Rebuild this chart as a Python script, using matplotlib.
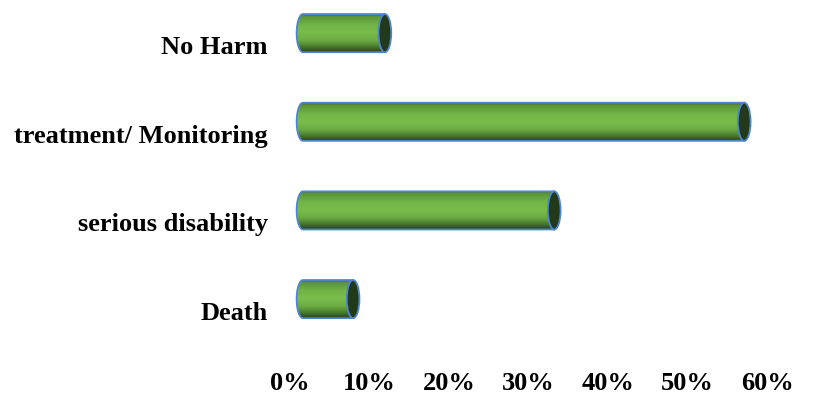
import numpy as np
import matplotlib
matplotlib.use("Agg")
import matplotlib.pyplot as plt
from matplotlib.path import Path
from matplotlib.patches import PathPatch, Ellipse
from matplotlib.colors import LinearSegmentedColormap
from matplotlib.transforms import ScaledTranslation

categories = ["No Harm", "treatment/ Monitoring", "serious disability", "Death"]
values = [10.3, 55.5, 31.6, 6.3]
xticks = [0, 10, 20, 30, 40, 50, 60]
xticklabels = ["0%", "10%", "20%", "30%", "40%", "50%", "60%"]

plt.rcParams['font.family'] = ['Liberation Serif', 'DejaVu Serif']

fig = plt.figure(figsize=(8.13, 3.98), dpi=100)
ax = fig.add_axes([290/813, 0.107, (767-290)/813, 0.891])
n = len(categories)
pos = np.arange(n)
ax.set_xlim(0, 60)
ax.set_ylim(n - 0.5, -0.5)

bar_h = 0.43
cap_w = 1.6  # data units in x
shift = ax.transData + ScaledTranslation(0.13, 0.12, fig.dpi_scale_trans)

cmap = LinearSegmentedColormap.from_list("cyl", [
    (0.0, "#3a6228"), (0.08, "#5a9438"), (0.3, "#72b447"), (0.5, "#79bc4c"),
    (0.7, "#6dac44"), (0.84, "#4f8432"), (1.0, "#2a461b")])
grad = np.linspace(0, 1, 64).reshape(-1, 1)
edge_col = "#4f86cf"

for y, v in zip(pos, values):
    y0, y1 = y - bar_h / 2, y + bar_h / 2
    s = np.linspace(0, np.pi, 40)
    arc = [(-cap_w / 2 * np.sin(a), y + (bar_h / 2) * np.cos(a)) for a in s]
    verts = [(0, y0), (v, y0), (v, y1)] + arc + [(0, y0)]
    codes = [Path.MOVETO] + [Path.LINETO] * (len(verts) - 2) + [Path.CLOSEPOLY]
    path = Path(verts, codes)
    body = PathPatch(path, facecolor="none", edgecolor="none", transform=shift)
    ax.add_patch(body)
    im = ax.imshow(grad, cmap=cmap, aspect="auto",
                   extent=(-cap_w, v + cap_w, y1, y0), interpolation="bilinear",
                   transform=shift, zorder=2)
    im.set_clip_path(body)
    outline = PathPatch(path, facecolor="none", edgecolor=edge_col, lw=1.3,
                        transform=shift, zorder=3)
    ax.add_patch(outline)
    cap = Ellipse((v, y), cap_w, bar_h, facecolor="#22391a", edgecolor=edge_col,
                  lw=1.3, transform=shift, zorder=4)
    ax.add_patch(cap)

ax.set_xlim(0, 60)
ax.set_ylim(n - 0.5, -0.5)
ax.set_yticks(pos)
ax.set_yticklabels(categories, fontsize=19, fontweight="bold")
ax.set_xticks(xticks)
ax.set_xticklabels(xticklabels, fontsize=19, fontweight="bold")
ax.tick_params(axis="both", length=0)
ax.tick_params(axis="y", pad=16)
ax.tick_params(axis="x", pad=12)
for sp in ax.spines.values():
    sp.set_visible(False)

fig.savefig("out.png", dpi=100)
